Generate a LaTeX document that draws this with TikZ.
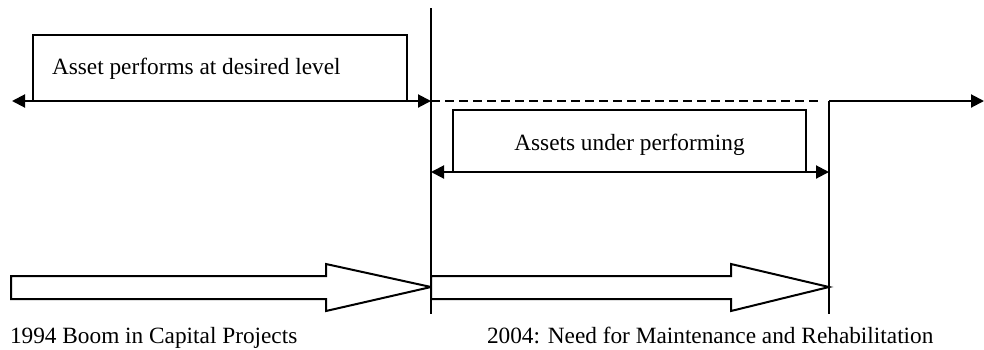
\documentclass[tikz,border=0pt]{standalone}
\usepackage{fontspec}
\setmainfont{Liberation Serif}
\usetikzlibrary{arrows.meta}
\begin{document}
\begin{tikzpicture}[x=1pt,y=-1pt,line width=2pt,
  tipend/.style={-{Triangle[length=13pt,width=13pt]}},
  twotips/.style={{Triangle[length=13pt,width=13pt]}-{Triangle[length=13pt,width=13pt]}},
  lbl/.style={font=\fontsize{23.3}{28}\selectfont,inner sep=0pt,outer sep=0pt},
  openbox/.style={draw,line width=2pt,inner sep=0pt,outer sep=0pt},
  blockarrow/.style={draw,fill=white,line width=2pt,line join=miter},
  dashline/.style={line width=2pt,dash pattern=on 9pt off 5pt}]
\useasboundingbox (0,0) rectangle (984,349);

% named points
\coordinate (tl) at (12,101);
\coordinate (m1) at (431,101);
\coordinate (m2) at (829,101);
\coordinate (tr) at (984,101);
\coordinate (d1) at (431,172);
\coordinate (d2) at (829,172);
\coordinate (v1top) at (431,8);
\coordinate (v1bot) at (431,314);
\coordinate (v2bot) at (829,314);

% boxes
\node[openbox,minimum width=374pt,minimum height=66pt] (box1) at (220,68) {};
\node[lbl,anchor=base west] (t1) at (52,74) {Asset performs at desired level};
\node[openbox,minimum width=353pt,minimum height=62pt] (box2) at (629.5,141) {};
\node[lbl,anchor=base] (t2) at (629.5,150) {Assets under performing};

% top time line
\draw[twotips] (tl) -- (m1);
\draw[dashline] (m1) -- (822,101);
\draw[tipend] (m2) -- (tr);
\draw[twotips] (d1) -- (d2);

% block arrows
\draw[blockarrow] (11,276) -- (326,276) -- (326,264) -- (v1top |- 0,287) -- (326,311) -- (326,299) -- (11,299) -- cycle;
\draw[blockarrow] (431,276) -- (731,276) -- (731,264) -- (v2bot |- 0,287) -- (731,311) -- (731,299) -- (431,299) -- cycle;

% vertical markers
\draw (v1top) -- (v1bot);
\draw (m2) -- (v2bot);

% labels
\node[lbl,anchor=base west] (l1) at (10,343) {1994 Boom in Capital Projects};
\node[lbl,anchor=base west] (l2) at (487,343) {2004: Need for Maintenance and Rehabilitation};
\end{tikzpicture}
\end{document}
